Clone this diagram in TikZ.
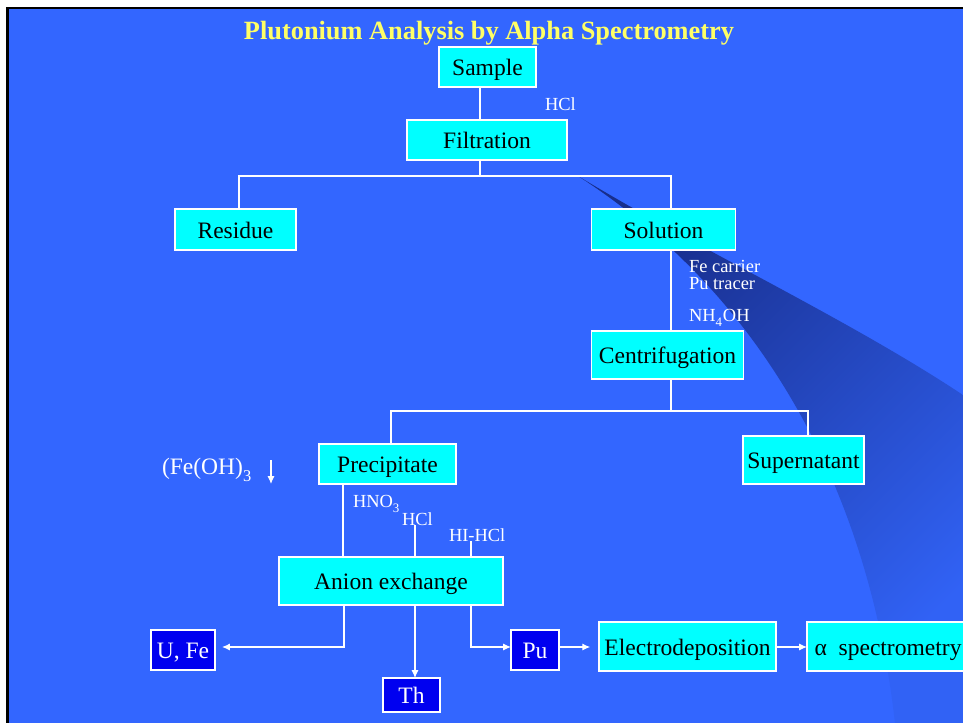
\documentclass[tikz,border=0pt]{standalone}
\usepackage{fontspec}
\setmainfont{Liberation Serif}
\usetikzlibrary{arrows.meta,positioning,calc}
\definecolor{bgblue}{RGB}{51,102,255}
\definecolor{swoosh}{RGB}{24,46,140}
\definecolor{boxcyan}{RGB}{0,255,255}
\definecolor{boxblue}{RGB}{0,0,240}
\definecolor{titleyellow}{RGB}{255,255,102}
\newcommand{\lowsub}[1]{\raisebox{-0.35ex}{\textsubscript{#1}}}
\tikzset{
    box/.style={draw=white,line width=0.6pt,fill=boxcyan,inner sep=0pt,outer sep=0pt,text height=1em,text depth=0pt,font=\fontsize{13.4pt}{15pt}\selectfont},
    darkbox/.style={box,fill=boxblue,text=white},
    sz/.style 2 args={minimum width=#1*0.02cm,minimum height=#2*0.02cm},
    note/.style={inner sep=0pt,outer sep=0pt,text=white,font=\fontsize{10.5pt}{9.5pt}\selectfont,anchor=base west,align=left},
    line/.style={-,draw=white,line width=0.6pt},
    arr/.style={line,-{Latex[length=4.5pt,width=4pt]}},
}
\begin{document}
\begin{tikzpicture}[x=0.02cm,y=-0.02cm]
                \useasboundingbox (0,0) rectangle (963,723);
                \fill[white] (0,0) rectangle (963,723);
                \fill[bgblue] (9,9) rectangle (963,723);
                \draw[black,line width=1.7pt] (7.5,723) -- (7.5,8) -- (963,8);
                \shade[left color=swoosh,right color=bgblue!96!black,shading angle=45] (578,176) .. controls (700,250) and (850,320) .. (963,395) -- (963,723) -- (895,723) .. controls (870,500) and (770,300) .. (578,176) -- cycle;
                \node[text=titleyellow,font=\bfseries\fontsize{15pt}{18pt}\selectfont] (title) at (489,33) {Plutonium Analysis by Alpha Spectrometry};
                % process boxes
                \node[box,sz={97}{40}] (sample) at (487.5,67) {Sample};
                \node[box,sz={160}{40}] (filt) at (487,140) {Filtration};
                \node[box,sz={121}{41}] (resid) at (235.5,229.5) {Residue};
                \node[box,sz={144}{41}] (sol) at (663.5,229.5) {Solution};
                \node[box,sz={152}{48}] (centr) at (667.5,355) {Centrifugation};
                \node[box,sz={137}{40}] (prec) at (387.5,464) {Precipitate};
                \node[box,sz={121}{48}] (super) at (803.5,460) {Supernatant};
                \node[box,sz={224}{48}] (anion) at (391,581) {Anion exchange};
                \node[darkbox,sz={64}{40}] (ufe) at (183,650) {U, Fe};
                \node[darkbox,sz={57}{34}] (th) at (411.5,695) {Th};
                \node[darkbox,sz={48}{40}] (pu) at (535,650) {Pu};
                \node[box,sz={177}{49}] (electro) at (687.5,646.5) {Electrodeposition};
                \node[box,sz={162}{49}] (alpha) at (888,646.5) {α\ \ spectrometry};
                % reagents
                \node[note] (hclone) at (545,111) {HCl};
                \node[note] (fecar) at (689,289) {Fe carrier\\Pu tracer};
                \node[note] (nhoh) at (689,321) {NH\lowsub{4}OH};
                \node[note,font=\fontsize{13.4pt}{15pt}\selectfont] (feoh) at (162,474) {(Fe(OH)\lowsub{3}};
                \node[note] (hno) at (353,507) {HNO\lowsub{3}};
                \node[note] (hcltwo) at (402,525) {HCl};
                \node[note] (hihcl) at (449,541) {HI-HCl};
                \coordinate (dropa) at (271,460);
                \coordinate (dropb) at (271,484);
                \coordinate (splitf) at (480,176);
                \coordinate (splitc) at (671,411);
                \coordinate (outrow) at (0,647);
                % connectors
                \draw[line] (sample.south -| splitf) -- (filt.north -| splitf);
                \draw[line] (filt.south -| splitf) -- (splitf);
                \draw[line] (resid.north -| 239,0) |- (splitf) -| (sol.north -| 671,0);
                \draw[line] (sol.south -| splitc) -- (centr.north -| splitc);
                \draw[line] (centr.south -| splitc) -- (splitc);
                \draw[line] (prec.north -| 391,0) |- (splitc) -| (super.north -| 808,0);
                \draw[line] (prec.south -| 343,0) -- (anion.north -| 343,0);
                \draw[line] (hcltwo.south -| 415,0) -- (anion.north -| 415,0);
                \draw[line] (hihcl.south -| 471,0) -- (anion.north -| 471,0);
                \draw[arr] (dropa) -- (dropb);
                \draw[arr,shorten >=4pt] (anion.south -| 344,0) |- (ufe.east |- outrow);
                \draw[arr] (anion.south -| 415,0) -- (th.north -| 415,0);
                \draw[arr] (anion.south -| 471,0) |- (pu.west |- outrow);
                \draw[arr,shorten >=5pt] (pu.east |- outrow) -- (electro.west |- outrow);
                \draw[arr] (electro.east |- outrow) -- (alpha.west |- outrow);
            \end{tikzpicture}
\end{document}
